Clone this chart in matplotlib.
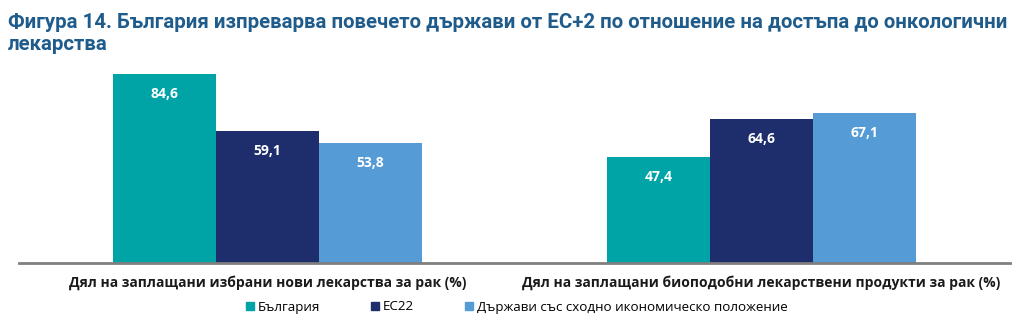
import numpy as np
import matplotlib.pyplot as plt
from matplotlib.patches import Patch

# data
categories = ["Дял на заплащани избрани нови лекарства за рак (%)",
              "Дял на заплащани биоподобни лекарствени продукти за рак (%)"]
series_names = ["България", "ЕС22", "Държави със сходно икономическо положение"]
bulgaria = [84.6, 47.4]
eu22 = [59.1, 64.6]
similar = [53.8, 67.1]

colors = ["#00A3A6", "#1E2D6B", "#559CD6"]
title_color = "#1F5C8B"

fig = plt.figure(figsize=(10.18, 3.31), dpi=100)

# title
fig.text(8 / 1018, 1 - 22 / 331, "Фигура 14. България изпреварва повечето държави от ЕС+2 по отношение на достъпа до онкологични",
         fontsize=14.65, fontweight="bold", color=title_color, family="Roboto", va="center", ha="left")
fig.text(8 / 1018, 1 - 45 / 331, "лекарства",
         fontsize=14.65, fontweight="bold", color=title_color, family="Roboto", va="center", ha="left")

ax = fig.add_axes([19 / 1018, 1 - 263 / 331, 991 / 1018, 203 / 331])

x = np.array([0.0, 1.0])
w = 0.2085
allvals = [bulgaria, eu22, similar]
for i, (vals, name) in enumerate(zip(allvals, series_names)):
    pos = x + (i - 1) * w
    bars = ax.bar(pos, vals, width=w, color=colors[i], label=name)
    for b, v in zip(bars, vals):
        ax.annotate(f"{v:.1f}".replace(".", ","), (b.get_x() + b.get_width() / 2, v),
                    xytext=(0, -14.5), textcoords="offset points", ha="center", va="center",
                    color="white", fontweight="bold", fontsize=10, family="Open Sans")

ax.set_xlim(-0.503, 1.503)
ax.set_ylim(0, 90.9)
ax.set_yticks([])
ax.set_xticks([])
for s in ["top", "right", "left"]:
    ax.spines[s].set_visible(False)
ax.spines["bottom"].set_color("#7F7F7F")
ax.spines["bottom"].set_linewidth(2)

for xi, c in zip(x, categories):
    ax.text(xi, -9, c, ha="center", va="center", fontsize=10, fontweight="bold",
            family="Open Sans", color="#1A1A1A", transform=ax.transData)

handles = [Patch(color=c, label=n) for c, n in zip(colors, series_names)]
fig.legend(handles=handles, loc="center", bbox_to_anchor=(517 / 1018, 1 - 307 / 331), ncol=3,
           frameon=False, handlelength=0.6, handleheight=0.6, handletextpad=0.3,
           columnspacing=3.8, prop={"family": "Open Sans", "size": 9.6})

fig.savefig("out.png", dpi=100)
